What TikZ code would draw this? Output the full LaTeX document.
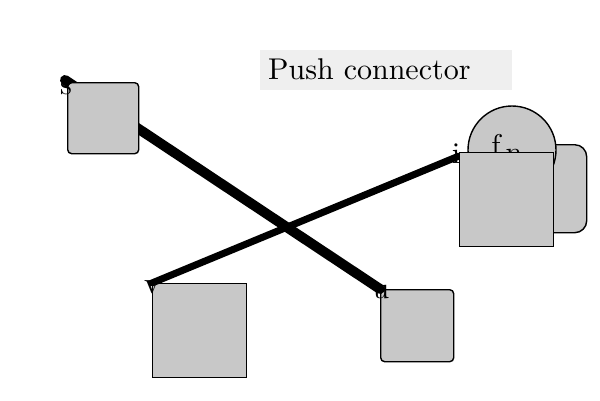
\documentclass[tikz,border=0pt]{standalone}
\usepackage{graphicx}
\definecolor{boxgray}{RGB}{200,200,200}
\definecolor{titlegray}{RGB}{239,239,239}
\tikzset{
  boxsq/.style={draw=black, fill=boxgray, line width=1.4pt, inner sep=0pt, anchor=north west},
  boxrnd/.style={boxsq, rounded corners=4pt},
  lbl/.style={inner sep=0pt, anchor=base},
  thickconn/.style={line width=10pt, line cap=round},
  medconn/.style={line width=7pt, line cap=round}
}
\newcommand{\lblt}[1]{\scalebox{3}{#1}}
\begin{document}
\begin{tikzpicture}[x=1pt, y=-1pt]
\useasboundingbox (0,0) rectangle (600,400);
% title
\node[fill=titlegray, minimum width=252pt, minimum height=40pt, inner sep=0pt, anchor=north west] (title) at (260,50) {};
\node[inner sep=0pt, anchor=base west] (titletext) at (268,79) {\scalebox{3}{Push connector}};
% hidden group at right
\node[boxsq, rounded corners=12pt, minimum width=80pt, minimum height=88pt] (p) at (506,144) {};
\node[draw=black, fill=boxgray, line width=1.4pt, circle, minimum size=88pt, inner sep=0pt] (f) at (512,150) {};
\node[lbl] (flbl) at (496,155) {\lblt{f}};
\node[lbl] (plbl) at (514,162) {\lblt{n}};
% boxes below lines
\node[boxrnd, minimum width=73pt, minimum height=72pt] (u) at (380,289) {};
\node[boxsq, minimum width=94pt, minimum height=94pt] (v) at (152,283) {};
% connectors
\draw[thickconn] (65,80) coordinate (sc) -- (u.north west);
\draw[medconn] (v.north west) -- (459,156) coordinate (ic);
% boxes above lines
\node[boxrnd, minimum width=71pt, minimum height=71pt] (s) at (67,82) {};
\node[boxsq, minimum width=94pt, minimum height=94pt] (i) at (459,152) {};
% labels
\node[lbl] (slbl) at (66,94) {\lblt{s}};
\node[lbl] (vlbl) at (152,293) {\lblt{v}};
\node[lbl] (ulbl) at (381,298) {\lblt{u}};
\node[lbl] (ilbl) at (456,163) {\lblt{i}};
\end{tikzpicture}
\end{document}
